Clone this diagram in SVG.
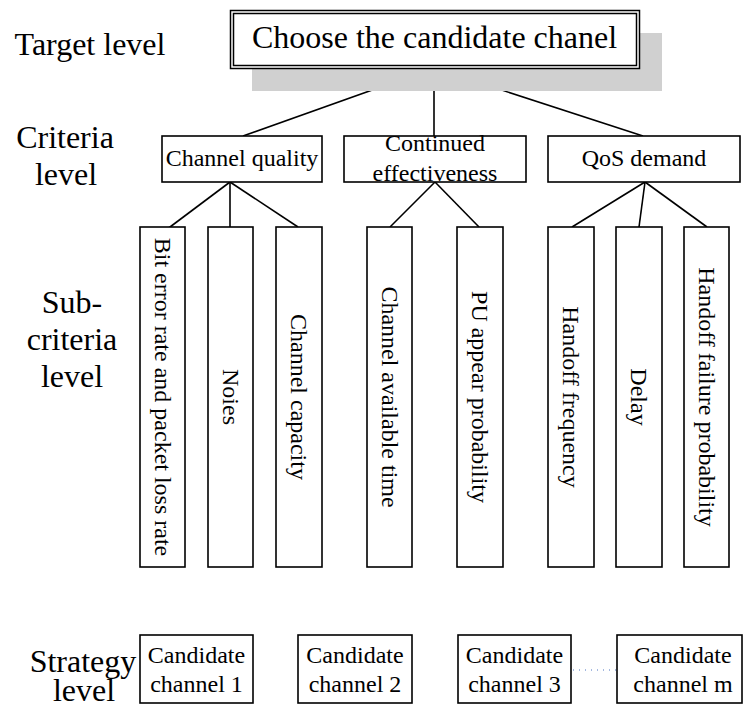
<svg xmlns="http://www.w3.org/2000/svg" width="744" height="704" viewBox="0 0 744 704" font-family="'Liberation Serif', 'Times New Roman', serif">
<style>
text{font-family:'Liberation Serif','Times New Roman',serif;fill:#000}
.lbl{font-size:32px;text-anchor:middle}
.t24{font-size:24px;text-anchor:middle}
.box{fill:#fff;stroke:#000;stroke-width:1.6}
.vt{font-size:24px;text-anchor:middle;dominant-baseline:central}
.con{stroke:#000;stroke-width:1.6;fill:none}
</style>
<rect width="744" height="704" fill="#fff"/>
<g id="level-labels">
<text class="lbl" x="90" y="55">Target level</text>
<text class="lbl" x="65" y="148">Criteria</text>
<text class="lbl" x="66" y="185">level</text>
<text class="lbl" x="72" y="313">Sub-</text>
<text class="lbl" x="72" y="350">criteria</text>
<text class="lbl" x="72" y="387">level</text>
<text class="lbl" x="83" y="672">Strategy</text>
<text class="lbl" x="84" y="701">level</text>
</g>
<g id="connectors">
<line class="con" x1="434" y1="68" x2="243" y2="136"/>
<line class="con" x1="434" y1="68" x2="434" y2="136"/>
<line class="con" x1="434" y1="68" x2="643" y2="136"/>
<line class="con" x1="230" y1="182" x2="162" y2="233"/>
<line class="con" x1="230" y1="182" x2="230" y2="233"/>
<line class="con" x1="230" y1="182" x2="298" y2="227"/>
<line class="con" x1="435" y1="182" x2="390" y2="227"/>
<line class="con" x1="435" y1="182" x2="479" y2="227"/>
<line class="con" x1="645" y1="182" x2="572" y2="227"/>
<line class="con" x1="645" y1="182" x2="639" y2="227"/>
<line class="con" x1="645" y1="182" x2="707" y2="227"/>
<line x1="573" y1="670" x2="616" y2="670" stroke="#4a72c0" stroke-width="1" stroke-dasharray="1 5"/>
</g>
<g id="goal">
<rect x="252" y="33" width="410" height="58" fill="#d0d0d0"/>
<rect x="230.5" y="10.5" width="409" height="58" fill="#fff" stroke="#000" stroke-width="1.5"/>
<rect x="233.5" y="13.5" width="403" height="52" fill="none" stroke="#000" stroke-width="1.5"/>
<text x="434.5" y="48" font-size="32" text-anchor="middle">Choose the candidate chanel</text>
</g>
<g id="criterion-quality">
<rect class="box" x="162" y="136" width="160" height="46"/>
<text class="t24" x="242" y="166">Channel quality</text>
</g>
<g id="criterion-effectiveness">
<rect class="box" x="344" y="136" width="182" height="46"/>
<text class="t24" x="435" y="151">Continued</text>
<text class="t24" x="435" y="181">effectiveness</text>
</g>
<g id="criterion-qos">
<rect class="box" x="548" y="136" width="192" height="46"/>
<text class="t24" x="644" y="166">QoS demand</text>
</g>
<g id="sub-ber">
<rect class="box" x="140" y="227" width="45" height="340"/>
<text class="vt" transform="translate(162.5 397) rotate(90)">Bit error rate and packet loss rate</text>
</g>
<g id="sub-noise">
<rect class="box" x="208" y="227" width="45" height="340"/>
<text class="vt" transform="translate(230.5 397) rotate(90)">Noies</text>
</g>
<g id="sub-capacity">
<rect class="box" x="276" y="227" width="46" height="340"/>
<text class="vt" transform="translate(299 397) rotate(90)">Channel capacity</text>
</g>
<g id="sub-available">
<rect class="box" x="367" y="227" width="45" height="340"/>
<text class="vt" transform="translate(389.5 397) rotate(90)">Channel available time</text>
</g>
<g id="sub-pu">
<rect class="box" x="457" y="227" width="46" height="340"/>
<text class="vt" transform="translate(480 397) rotate(90)">PU appear probability</text>
</g>
<g id="sub-handoff-freq">
<rect class="box" x="548" y="227" width="46" height="340"/>
<text class="vt" transform="translate(571 397) rotate(90)">Handoff frequency</text>
</g>
<g id="sub-delay">
<rect class="box" x="616" y="227" width="46" height="340"/>
<text class="vt" transform="translate(639 397) rotate(90)">Delay</text>
</g>
<g id="sub-handoff-fail">
<rect class="box" x="684" y="227" width="45" height="340"/>
<text class="vt" transform="translate(706.5 397) rotate(90)">Handoff failure probability</text>
</g>
<g id="candidate-1">
<rect class="box" x="140" y="635" width="113" height="68"/>
<text class="t24" x="196.5" y="663">Candidate</text>
<text class="t24" x="196.5" y="692">channel 1</text>
</g>
<g id="candidate-2">
<rect class="box" x="298" y="635" width="114" height="68"/>
<text class="t24" x="355" y="663">Candidate</text>
<text class="t24" x="355" y="692">channel 2</text>
</g>
<g id="candidate-3">
<rect class="box" x="458" y="635" width="113" height="68"/>
<text class="t24" x="514.5" y="663">Candidate</text>
<text class="t24" x="514.5" y="692">channel 3</text>
</g>
<g id="candidate-m">
<rect class="box" x="617" y="635" width="125" height="68"/>
<text class="t24" x="683" y="663">Candidate</text>
<text class="t24" x="683" y="692">channel m</text>
</g>
</svg>
